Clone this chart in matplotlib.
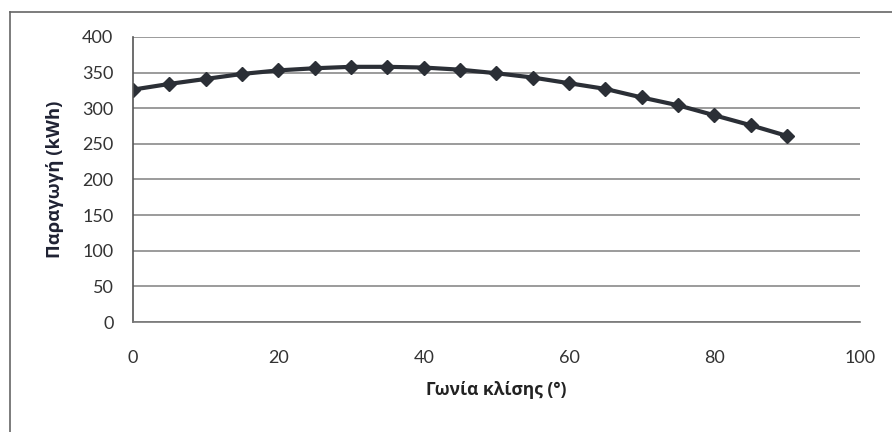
import matplotlib
matplotlib.use("Agg")
import matplotlib.pyplot as plt
from matplotlib.lines import Line2D

# tilt angle (deg) vs annual production (kWh)
angles = [0, 5, 10, 15, 20, 25, 30, 35, 40, 45, 50, 55, 60, 65, 70, 75, 80, 85, 90]
production = [326, 334, 341, 348, 353, 356, 358, 358, 357, 354, 349, 343, 335, 327, 315, 304, 290, 276, 261]

x_ticks = [0, 20, 40, 60, 80, 100]
y_ticks = [0, 50, 100, 150, 200, 250, 300, 350, 400]

plt.rcParams["font.family"] = ["Lato", "DejaVu Sans"]

fig = plt.figure(figsize=(8.92, 4.32), dpi=100)
ax = fig.add_axes([0.149, 0.2546, 0.815, 0.66])

ax.plot(angles, production, color="#2b2f36", linewidth=3, marker="D",
        markersize=7.5, markerfacecolor="#2b2f36", markeredgecolor="#2b2f36")

ax.set_xlim(0, 100)
ax.set_ylim(0, 400)
ax.set_xticks(x_ticks)
ax.set_yticks(y_ticks)
ax.tick_params(axis="both", length=0, labelsize=13, colors="#333333")
ax.tick_params(axis="y", pad=14)
ax.tick_params(axis="x", pad=20)
ax.yaxis.grid(True, color="#8a8a8a", linewidth=1.2)
ax.set_axisbelow(True)

for side in ("top", "right"):
    ax.spines[side].set_visible(False)
ax.spines["left"].set_color("#555555")
ax.spines["bottom"].set_color("#777777")
ax.spines["left"].set_linewidth(1.2)
ax.spines["bottom"].set_linewidth(1.2)

label_font = dict(family=["Open Sans", "DejaVu Sans"], fontweight="bold")
ax.set_xlabel("Γωνία κλίσης (°)", fontsize=12.5, color="#222222", labelpad=11, **label_font)
ax.set_ylabel("Παραγωγή (kWh)", fontsize=13.3, color="#1f2233", labelpad=13, **label_font)

# outer chart frame (top and left edges)
fig.add_artist(Line2D([10 / 892, 1.0], [1 - 12 / 432, 1 - 12 / 432], color="#666666", linewidth=1.2))
fig.add_artist(Line2D([10 / 892, 10 / 892], [0.0, 1 - 12 / 432], color="#666666", linewidth=1.2))

fig.savefig("out.png", dpi=100)
